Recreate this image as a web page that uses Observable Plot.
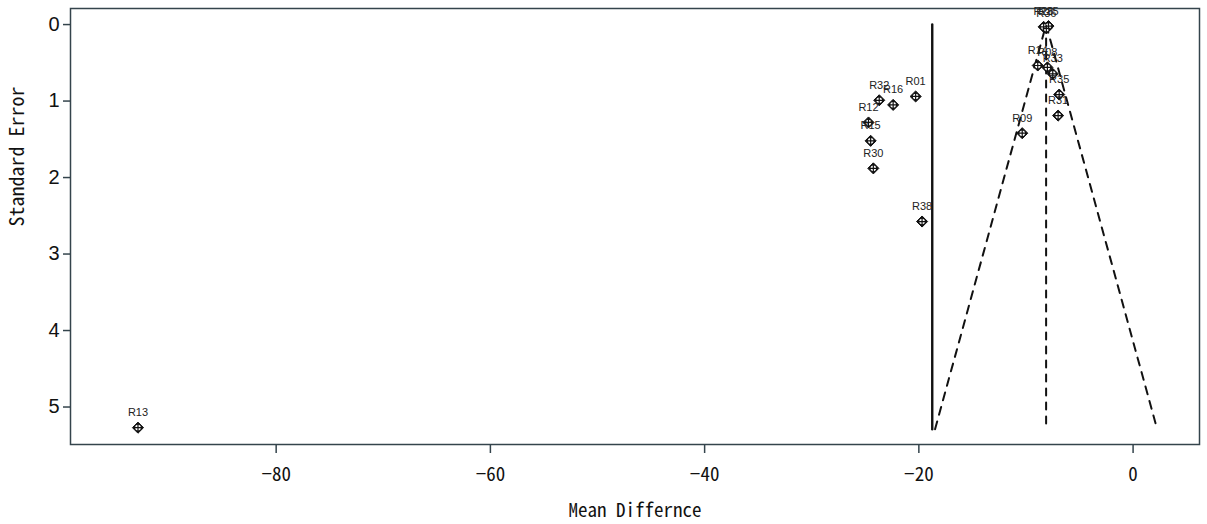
<!DOCTYPE html>
<html>
<head>
<meta charset="utf-8">
<script src="https://cdn.jsdelivr.net/npm/d3@7"></script>
<script src="https://cdn.jsdelivr.net/npm/@observablehq/plot@0.6"></script>
<style>
  html, body { margin: 0; padding: 0; background: #fff; }
  #chart { width: 1207px; height: 524px; }
</style>
</head>
<body>
<div id="chart"></div>
<script>
// Study labels, mean differences and standard errors
const studies = ["R13","R38","R30","R15","R12","R32","R16","R01","R09","R35","R31","R14","R08","R33","R26","R36","R25"];
const meanDiff = [-92.9,-19.7,-24.25,-24.5,-24.7,-23.7,-22.4,-20.3,-10.35,-6.9,-7.0,-8.9,-8.0,-7.5,-8.35,-8.1,-7.9];
const stdErr   = [5.27,2.575,1.88,1.52,1.28,0.99,1.05,0.94,1.42,0.915,1.19,0.535,0.56,0.645,0.03,0.05,0.02];

// Reference lines
const pooledMD = -8.12;      // dashed funnel centre
const otherMD = -18.75;      // solid vertical line
const maxSE = 5.29;
const xTicks = [-80,-60,-40,-20,0];
const yTicks = [0,1,2,3,4,5];

const pts = studies.map((s,i) => ({study: s, md: meanDiff[i], se: stdErr[i]}));
const funnel = [
  {md: pooledMD - 1.96*maxSE, se: maxSE},
  {md: pooledMD, se: 0},
  {md: pooledMD + 1.96*maxSE, se: maxSE}
];
const pooledLine = [{md: pooledMD, se: 0}, {md: pooledMD, se: maxSE}];
const solidLine = [{md: otherMD, se: 0}, {md: otherMD, se: maxSE}];

const crossSymbol = {
  draw(ctx, size) {
    const r = Math.sqrt(size / Math.PI);
    ctx.moveTo(-r, 0); ctx.lineTo(r, 0);
    ctx.moveTo(0, -r); ctx.lineTo(0, r);
  }
};

const frameColor = "#34444c";
const mono = "'Noto Sans Mono CJK SC', 'DejaVu Sans Mono', monospace";

const chart = Plot.plot({
  width: 1207,
  height: 524,
  marginLeft: 70,
  marginRight: 8,
  marginTop: 8,
  marginBottom: 80,
  style: {fontFamily: "'Liberation Sans', Arial, sans-serif", background: "#fff"},
  x: {domain: [-99.2, 6.2]},
  y: {domain: [5.49, -0.21]},
  marks: [
    Plot.frame({stroke: frameColor, strokeWidth: 1.5}),
    Plot.axisX({ticks: xTicks, tickFormat: d => d === 0 ? "0" : "\u2212" + Math.abs(d), tickSize: 9, tickPadding: 14, fontSize: 19, fontFamily: mono,
      stroke: frameColor, strokeWidth: 1.5, fill: "#111",
      label: "Mean Differnce", labelAnchor: "center", labelArrow: "none", labelOffset: 72}),
    Plot.axisY({ticks: yTicks, tickFormat: "d", tickSize: 7, tickPadding: 4, fontSize: 20,
      stroke: frameColor, strokeWidth: 1.5, fill: "#111",
      label: null}),
    Plot.text(["Standard Error"], {frameAnchor: "left", dx: -53, rotate: -90,
      fontSize: 20, fontFamily: mono, fill: "#111"}),
    Plot.line(solidLine, {x: "md", y: "se", stroke: "#111", strokeWidth: 2.4}),
    Plot.line(pooledLine, {x: "md", y: "se", stroke: "#111", strokeWidth: 2, strokeDasharray: "7,7"}),
    Plot.line(funnel, {x: "md", y: "se", stroke: "#111", strokeWidth: 2, strokeDasharray: "8,7"}),
    Plot.dot(pts, {x: "md", y: "se", symbol: "diamond2", r: 5, fill: "#111", stroke: "#111", strokeWidth: 1}),
    Plot.dot(pts, {x: "md", y: "se", symbol: "circle", r: 2.8, fill: "#fff", stroke: "none"}),
    Plot.dot(pts, {x: "md", y: "se", symbol: crossSymbol, r: 3.6, fill: "none", stroke: "#111", strokeWidth: 1.2}),
    Plot.text(pts, {x: "md", y: "se", text: "study", dy: -15, fontSize: 11, fill: "#222"})
  ]
});
document.getElementById("chart").appendChild(chart);
</script>
</body>
</html>
